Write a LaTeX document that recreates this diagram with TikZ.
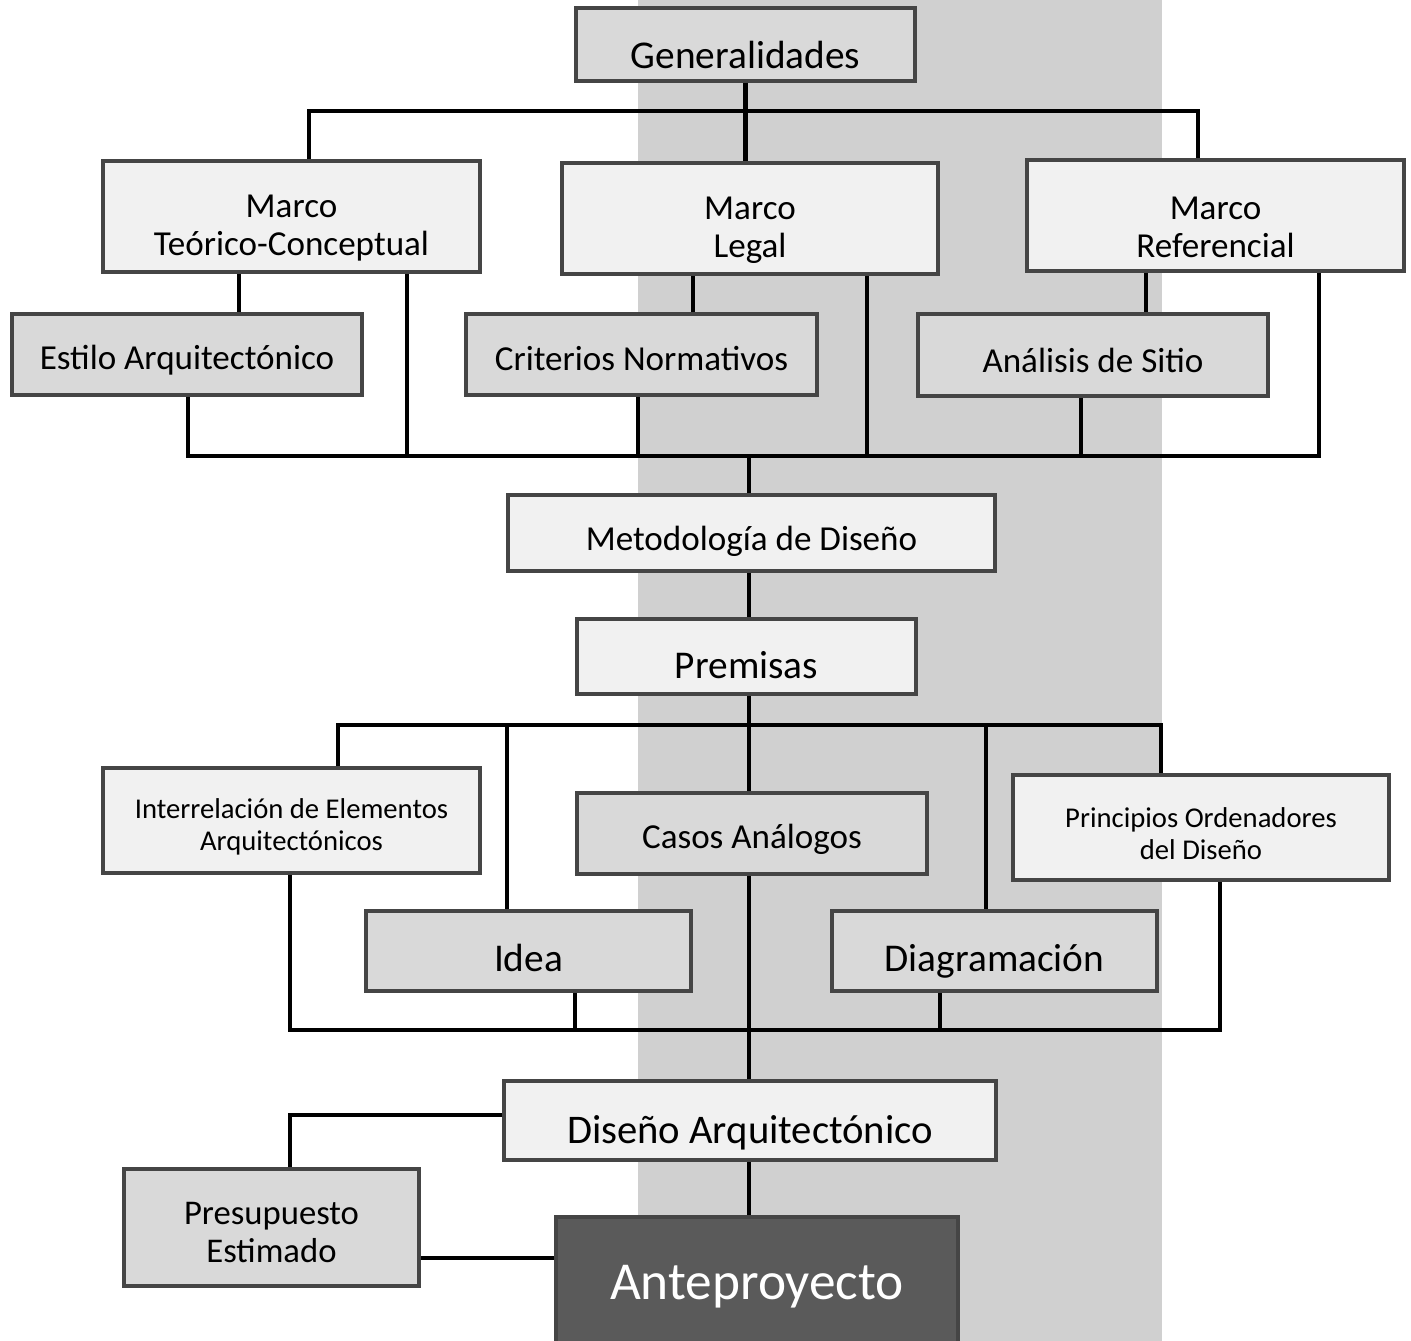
\documentclass[tikz,border=0pt]{standalone}
\usepackage{fontspec}
\setmainfont{Carlito}
\definecolor{bandc}{HTML}{D0D0D0}
\definecolor{lightfill}{HTML}{F1F1F1}
\definecolor{midfill}{HTML}{D9D9D9}
\definecolor{darkfill}{HTML}{5A5A5A}
\definecolor{edgec}{HTML}{454545}
\newcommand\fzXL{\fontsize{40}{46}\selectfont}
\newcommand\fzL{\fontsize{29.5}{34}\selectfont}
\newcommand\fzLL{\fontsize{30.5}{34}\selectfont}
\newcommand\fzM{\fontsize{26.3}{28.5}\selectfont}
\newcommand\fzP{\fontsize{26}{28}\selectfont}
\newcommand\fzS{\fontsize{21.5}{24}\selectfont}
\tikzset{
  boxbase/.style={draw=edgec, line width=3pt, rectangle, inner sep=0pt},
  lightbox/.style={boxbase, fill=lightfill},
  midbox/.style={boxbase, fill=midfill},
  darkbox/.style={boxbase, fill=darkfill},
  txt/.style={inner sep=0pt, align=center, text=black},
  conn/.style={draw=black, line width=3.2pt},
}
% name, x1, y1, x2, y2, box style, font, text, extra text shift
\newcommand\mybox[9]{%
  \pgfmathsetmacro\bw{(#4-#2-4)*0.75}%
  \pgfmathsetmacro\bh{(#5-#3-4)*0.75}%
  \node[#6, minimum width=\bw pt, minimum height=\bh pt] (#1) at ({(#2+#4)/2},{(#3+#5)/2}) {};
  \node[txt, font=#7] (#1t) at ({(#2+#4)/2},{(#3+#5)/2+6+#9}) {#8};}
\begin{document}
\begin{tikzpicture}[x=0.75pt, y=-0.75pt]
\useasboundingbox (0,0) rectangle (1411,1341);
\clip (0,0) rectangle (1411,1341);
\fill[bandc] (638,0) rectangle (1162,1341);
% boxes
\mybox{gen}{574}{6}{917}{83}{midbox}{\fzL}{Generalidades}{4}
\mybox{mtc}{101}{159}{482}{274}{lightbox}{\fzM}{Marco\\Teórico-Conceptual}{6}
\mybox{mleg}{560}{161}{940}{276}{lightbox}{\fzM}{Marco\\Legal}{6}
\mybox{mref}{1025}{158}{1406}{273}{lightbox}{\fzM}{Marco\\Referencial}{6}
\mybox{est}{10}{312}{364}{397}{midbox}{\fzM}{Estilo Arquitectónico}{0}
\mybox{crit}{464}{312}{819}{397}{midbox}{\fzM}{Criterios Normativos}{-2}
\mybox{anal}{916}{312}{1270}{398}{midbox}{\fzM}{Análisis de Sitio}{-1}
\mybox{met}{506}{493}{997}{573}{lightbox}{\fzM}{Metodología de Diseño}{2}
\mybox{prem}{575}{617}{918}{696}{lightbox}{\fzL}{Premisas}{3}
\mybox{inter}{101}{766}{482}{875}{lightbox}{\fzS}{Interrelación de Elementos\\Arquitectónicos}{0}
\mybox{casos}{575}{791}{929}{876}{midbox}{\fzM}{Casos Análogos}{0}
\mybox{princ}{1011}{773}{1391}{882}{lightbox}{\fzS}{Principios Ordenadores\\del Diseño}{0}
\mybox{idea}{364}{909}{693}{993}{midbox}{\fzL}{Idea}{1}
\mybox{diag}{830}{909}{1159}{993}{midbox}{\fzL}{Diagramación}{4}
\mybox{dis}{502}{1079}{998}{1162}{lightbox}{\fzLL}{Diseño Arquitectónico}{6}
\mybox{pres}{122}{1167}{421}{1288}{midbox}{\fzP}{Presupuesto\\Estimado}{-1}
\pgfmathsetmacro\aw{(960-554-4)*0.75}
\node[darkbox, minimum width=\aw pt, minimum height=110pt] (ante) at (757,1290) {};
\node[txt, font=\fzXL, text=white] (antet) at (757,1287) {Anteproyecto};
% connector coordinates
\coordinate (tL) at (309,111);
\coordinate (tR) at (1198,111);
\coordinate (c1) at (239,0);
\coordinate (c2) at (693,0);
\coordinate (c3) at (1146,0);
\coordinate (mL) at (188,456);
\coordinate (mR) at (1319,456);
\coordinate (m2) at (407,456);
\coordinate (m3) at (638,456);
\coordinate (m4) at (867,456);
\coordinate (m5) at (1081,456);
\coordinate (mC) at (749,456);
\coordinate (pC) at (749,725);
\coordinate (pL) at (338,725);
\coordinate (pR) at (1161,725);
\coordinate (p2) at (507,725);
\coordinate (p4) at (986,725);
\coordinate (bL) at (290,1030);
\coordinate (bR) at (1220,1030);
\coordinate (b2) at (575,1030);
\coordinate (b3) at (940,1030);
\coordinate (dL) at (290,1115);
\coordinate (aL) at (0,1258);
% connectors
\draw[conn] (gen.south) -- (gen.south |- mleg.north);
\draw[conn] (tL |- mtc.north) -- (tL) -- (tR) -- (tR |- mref.north);
\draw[conn] (mtc.south -| c1) -- (est.north -| c1);
\draw[conn] (mleg.south -| c2) -- (crit.north -| c2);
\draw[conn] (mref.south -| c3) -- (anal.north -| c3);
\draw[conn] (est.south -| mL) -- (mL) -- (mR) -- (mref.south -| mR);
\draw[conn] (mtc.south -| m2) -- (m2);
\draw[conn] (crit.south -| m3) -- (m3);
\draw[conn] (mleg.south -| m4) -- (m4);
\draw[conn] (anal.south -| m5) -- (m5);
\draw[conn] (mC) -- (met.north -| mC);
\draw[conn] (met.south -| mC) -- (prem.north -| mC);
\draw[conn] (prem.south -| pC) -- (pC);
\draw[conn] (inter.north -| pL) -- (pL) -- (pR) -- (princ.north -| pR);
\draw[conn] (p2) -- (idea.north -| p2);
\draw[conn] (pC) -- (casos.north -| pC);
\draw[conn] (p4) -- (diag.north -| p4);
\draw[conn] (inter.south -| bL) -- (bL) -- (bR) -- (princ.south -| bR);
\draw[conn] (idea.south -| b2) -- (b2);
\draw[conn] (diag.south -| b3) -- (b3);
\draw[conn] (casos.south -| pC) -- (dis.north -| pC);
\draw[conn] (dis.south -| pC) -- (ante.north -| pC);
\draw[conn] (dis.west |- dL) -- (dL) -- (pres.north -| dL);
\draw[conn] (pres.east |- aL) -- (ante.west |- aL);
\end{tikzpicture}
\end{document}
